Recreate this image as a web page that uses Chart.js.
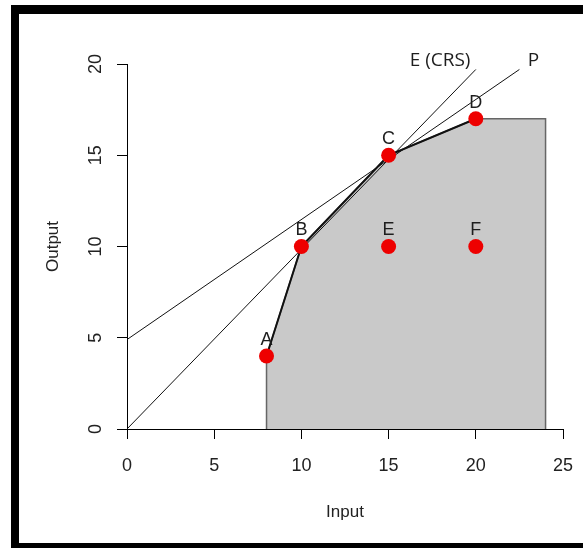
<!DOCTYPE html>
<html>
<head>
<meta charset="utf-8">
<title>DEA frontier</title>
<script src="https://cdn.jsdelivr.net/npm/chart.js@4/dist/chart.umd.min.js"></script>
<style>
    html, body { margin: 0; padding: 0; background: #fff; }
    #wrap { position: relative; width: 583px; height: 548px; overflow: hidden; }
    #frame {
        position: absolute; left: 11px; top: 5px; right: 0; bottom: 0;
        box-sizing: border-box;
        border-left: 8px solid #000;
        border-top: 9px solid #000;
        border-bottom: 5px solid #000;
    }
    #chart { position: absolute; left: 0; top: 0; }
</style>
</head>
<body>
<div id="wrap">
    <div id="frame"></div>
    <canvas id="chart" width="583" height="548"></canvas>
</div>
<script>
// DMU 관측치 (input, output)
const dmuNames  = ["A", "B", "C", "D", "E", "F"];
const dmuInput  = [8, 10, 15, 20, 15, 20];
const dmuOutput = [4, 10, 15, 17, 10, 10];

// 효율 프런티어 A-B-C-D
const frontierX = [8, 10, 15, 20];
const frontierY = [4, 10, 15, 17];

// 생산가능집합 (회색 영역)
const regionX = [8, 8, 10, 15, 20, 24, 24];
const regionY = [0, 4, 10, 15, 17, 17, 0];

// 직선: E (CRS), P
const crsX = [0, 20];
const crsY = [0, 19.7];
const pX = [0, 22.5];
const pY = [4.9, 19.7];

const lineLabels = ["E (CRS)", "P"];
const lineLabelX = [17.95, 23.3];
const lineLabelY = [20.2, 20.2];

// 축 눈금
const xTicks = [0, 5, 10, 15, 20, 25];
const yTicks = [0, 5, 10, 15, 20];

const toPts = (xs, ys) => xs.map((x, i) => ({ x, y: ys[i] }));

const AXIS_FONT = "'Liberation Sans', Arial, sans-serif";

// ------------------------------------------------------------
// 점 라벨 + 직선 라벨
// ------------------------------------------------------------
const labelPlugin = {
    id: "labels",
    afterDraw(chart) {
        const { ctx, scales: { x, y } } = chart;
        ctx.save();
        ctx.textAlign = "center";
        ctx.textBaseline = "middle";
        ctx.fillStyle = "#1e1e1e";
        ctx.font = `18px ${AXIS_FONT}`;
        dmuNames.forEach((name, i) => {
            ctx.fillText(name, x.getPixelForValue(dmuInput[i]), y.getPixelForValue(dmuOutput[i]) - 16);
        });
        ctx.font = "19px 'Open Sans', sans-serif";
        lineLabels.forEach((txt, i) => {
            ctx.fillText(txt, x.getPixelForValue(lineLabelX[i]), y.getPixelForValue(lineLabelY[i]));
        });
        ctx.restore();
    },
};

new Chart(document.getElementById("chart"), {
    type: "scatter",
    data: {
        datasets: [
            {
                data: toPts(dmuInput, dmuOutput),
                pointRadius: 7.5,
                pointBackgroundColor: "#ee0000",
                pointBorderWidth: 0,
                showLine: false,
                order: 0,
            },
            {
                data: toPts(frontierX, frontierY),
                showLine: true,
                borderColor: "#111",
                borderWidth: 2,
                pointRadius: 0,
                order: 1,
            },
            {
                data: toPts(crsX, crsY),
                showLine: true,
                borderColor: "#111",
                borderWidth: 1,
                pointRadius: 0,
                order: 2,
            },
            {
                data: toPts(pX, pY),
                showLine: true,
                borderColor: "#111",
                borderWidth: 1,
                pointRadius: 0,
                order: 3,
            },
            {
                data: toPts(regionX, regionY),
                showLine: true,
                fill: "origin",
                backgroundColor: "#c9c9c9",
                borderColor: "#666",
                borderWidth: 1.5,
                pointRadius: 0,
                order: 4,
            },
        ],
    },
    options: {
        responsive: false,
        animation: false,
        events: [],
        layout: { padding: { top: 64, right: 20, left: 0, bottom: 0 } },
        plugins: {
            legend: { display: false },
            tooltip: { enabled: false },
        },
        scales: {
            x: {
                type: "linear",
                min: 0,
                max: 25,
                z: 1,
                afterBuildTicks: s => { s.ticks = xTicks.map(v => ({ value: v })); },
                ticks: { color: "#222", font: { family: AXIS_FONT, size: 18 }, padding: 16 },
                grid: { drawOnChartArea: false, drawTicks: true, tickLength: 10, color: "#000" },
                border: { display: true, color: "#000", width: 1 },
                title: {
                    display: true, text: "Input", color: "#222",
                    font: { family: AXIS_FONT, size: 17 },
                    padding: { top: 0, bottom: 25 },
                },
                afterFit: s => { s.height = 119; s.paddingLeft = 0; s.paddingRight = 0; },
            },
            y: {
                type: "linear",
                min: 0,
                max: 20,
                afterBuildTicks: s => { s.ticks = yTicks.map(v => ({ value: v })); },
                ticks: {
                    color: "#222", font: { family: AXIS_FONT, size: 18 },
                    padding: 11, minRotation: 90, maxRotation: 90, crossAlign: "center",
                },
                grid: { drawOnChartArea: false, drawTicks: true, tickLength: 10, color: "#000" },
                border: { display: true, color: "#000", width: 1 },
                title: {
                    display: true, text: "Output", color: "#222",
                    font: { family: AXIS_FONT, size: 17 },
                    padding: { top: 43, bottom: 0 },
                },
                afterFit: s => { s.width = 127; s.paddingTop = 0; s.paddingBottom = 0; },
            },
        },
    },
    plugins: [labelPlugin],
});
</script>
</body>
</html>
